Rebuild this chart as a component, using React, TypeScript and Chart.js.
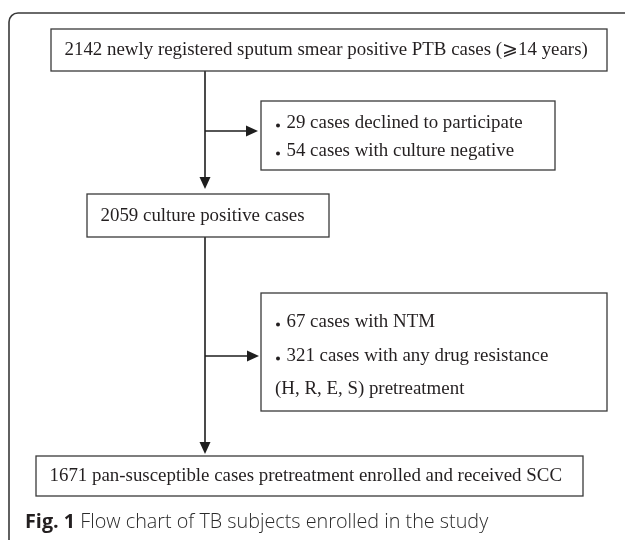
import React, { useEffect, useRef } from "react";
import { Chart, registerables } from "chart.js";

Chart.register(...registerables);

// ---- data (counts and texts of the flow chart) ----
const screenedCount = 2142;
const declinedCount = 29;
const cultureNegativeCount = 54;
const culturePositiveCount = 2059;
const ntmCount = 67;
const drugResistantCount = 321;
const enrolledCount = 1671;

const topLines = [`${screenedCount} newly registered sputum smear positive PTB cases (\u2A7E14 years)`];
const exclusion1Lines = [
  `${declinedCount} cases declined to participate`,
  `${cultureNegativeCount} cases with culture negative`,
];
const exclusion1Bullets = [true, true];
const middleLines = [`${culturePositiveCount} culture positive cases`];
const exclusion2Lines = [
  `${ntmCount} cases with NTM`,
  `${drugResistantCount} cases with any drug resistance`,
  "(H, R, E, S) pretreatment",
];
const exclusion2Bullets = [true, true, false];
const bottomLines = [`${enrolledCount} pan-susceptible cases pretreatment enrolled and received SCC`];
const captionLabel = "Fig. 1";
const captionText = "Flow chart of TB subjects enrolled in the study";

// ---- layout (chart units == page pixels) ----
const W = 625;
const H = 540;
const frame = { x: 9, y: 13, r: 9 };
const trunkX = 205;
const boxTop = { x0: 51, x1: 607, y0: 29, y1: 71, lineY: [50], align: "left" };
const boxEx1 = { x0: 261, x1: 555, y0: 101, y1: 170, lineY: [123, 151], align: "bullet" };
const boxMid = { x0: 87, x1: 329, y0: 194, y1: 237, lineY: [216], align: "left" };
const boxEx2 = { x0: 261, x1: 607, y0: 293, y1: 411, lineY: [322, 356, 389], align: "bullet" };
const boxBottom = { x0: 36, x1: 583, y0: 456, y1: 496, lineY: [476], align: "left" };
const branch1Y = 131;
const branch2Y = 356;
const captionPos = { x: 25, y: 522 };

const SERIF = '"Liberation Serif", "Times New Roman", "DejaVu Serif", serif';
const FONT_SIZE = 18.9;
const INK = "#231f20";
const LINE = "#3a3a3a";

const flowPlugin = {
  id: "flow",
  afterDraw(chart: any) {
    const ctx: CanvasRenderingContext2D = chart.ctx;
    const xs = chart.scales.x;
    const ys = chart.scales.y;
    const px = (v: number) => xs.getPixelForValue(v);
    const py = (v: number) => ys.getPixelForValue(v);

    ctx.save();
    // outer frame (open right & bottom, rounded top-left)
    ctx.strokeStyle = "#3a3a3a";
    ctx.lineWidth = 1.6;
    ctx.beginPath();
    ctx.moveTo(px(frame.x), py(H + 5));
    ctx.lineTo(px(frame.x), py(frame.y + frame.r));
    ctx.arcTo(px(frame.x), py(frame.y), px(frame.x + frame.r), py(frame.y), frame.r);
    ctx.lineTo(px(W + 5), py(frame.y));
    ctx.stroke();

    // boxes
    const drawBox = (b: any, lines: string[], bullets?: boolean[]) => {
      ctx.strokeStyle = LINE;
      ctx.lineWidth = 1.3;
      ctx.strokeRect(px(b.x0), py(b.y0), px(b.x1) - px(b.x0), py(b.y1) - py(b.y0));
      ctx.fillStyle = INK;
      ctx.font = `${FONT_SIZE}px ${SERIF}`;
      ctx.textBaseline = "middle";
      lines.forEach((t, i) => {
        const y = py(b.lineY[i]);
        if (b.align === "left") {
          ctx.textAlign = "left";
          ctx.fillText(t, px(b.x0 + 13.5), y);
        } else {
          ctx.textAlign = "left";
          const bx = px(b.x0 + 17);
          if (bullets && bullets[i]) {
            ctx.beginPath();
            ctx.arc(bx, y + 2.5, 2, 0, Math.PI * 2);
            ctx.fill();
            ctx.fillText(t, bx + 8.5, y);
          } else {
            ctx.fillText(t, bx - 3, y);
          }
        }
      });
    };
    drawBox(boxTop, topLines);
    drawBox(boxEx1, exclusion1Lines, exclusion1Bullets);
    drawBox(boxMid, middleLines);
    drawBox(boxEx2, exclusion2Lines, exclusion2Bullets);
    drawBox(boxBottom, bottomLines);

    // arrowheads
    const head = (tx: number, ty: number, dir: "down" | "right") => {
      const x = px(tx);
      const y = py(ty);
      const L = 12;
      const hw = 5.5;
      ctx.fillStyle = "#1e1e1e";
      ctx.beginPath();
      if (dir === "down") {
        ctx.moveTo(x, y);
        ctx.lineTo(x - hw, y - L);
        ctx.lineTo(x + hw, y - L);
      } else {
        ctx.moveTo(x, y);
        ctx.lineTo(x - L, y - hw);
        ctx.lineTo(x - L, y + hw);
      }
      ctx.closePath();
      ctx.fill();
    };
    head(trunkX, boxMid.y0 - 5, "down");
    head(boxEx1.x0 - 3, branch1Y, "right");
    head(trunkX, boxBottom.y0 - 2, "down");
    head(boxEx2.x0 - 2, branch2Y, "right");

    // caption
    ctx.textAlign = "left";
    ctx.textBaseline = "middle";
    ctx.fillStyle = "#231f20";
    ctx.font = 'bold 19.8px "Open Sans", "Noto Sans", sans-serif';
    ctx.fillText(captionLabel, px(captionPos.x), py(captionPos.y));
    const w = ctx.measureText(captionLabel + " ").width;
    ctx.font = '300 19.8px "Open Sans", "Noto Sans", sans-serif';
    ctx.fillStyle = "#2b2b2b";
    ctx.fillText(captionText, px(captionPos.x) + w, py(captionPos.y));
    ctx.restore();
  },
};

const seg = (x0: number, y0: number, x1: number, y1: number) => ({
  type: "scatter" as const,
  data: [
    { x: x0, y: y0 },
    { x: x1, y: y1 },
  ],
  showLine: true,
  borderColor: "#1e1e1e",
  borderWidth: 1.6,
  pointRadius: 0,
  fill: false,
});

export default function App() {
  const ref = useRef<HTMLCanvasElement | null>(null);
  useEffect(() => {
    if (!ref.current) return;
    const chart = new Chart(ref.current, {
      type: "scatter",
      data: {
        datasets: [
          seg(trunkX, boxTop.y1, trunkX, boxMid.y0 - 14),
          seg(trunkX, branch1Y, boxEx1.x0 - 12, branch1Y),
          seg(trunkX, boxMid.y1, trunkX, boxBottom.y0 - 11),
          seg(trunkX, branch2Y, boxEx2.x0 - 11, branch2Y),
        ],
      },
      options: {
        animation: false,
        responsive: false,
        maintainAspectRatio: false,
        events: [],
        layout: { padding: 0 },
        plugins: { legend: { display: false }, tooltip: { enabled: false } },
        scales: {
          x: { type: "linear", min: 0, max: W, display: false },
          y: { type: "linear", min: 0, max: H, reverse: true, display: false },
        },
      },
      plugins: [flowPlugin],
    });
    return () => chart.destroy();
  }, []);
  return (
    <div style={{ position: "absolute", left: 0, top: 0, width: W, height: H, background: "#fff" }}>
      <canvas ref={ref} width={W} height={H} style={{ display: "block" }} />
    </div>
  );
}
